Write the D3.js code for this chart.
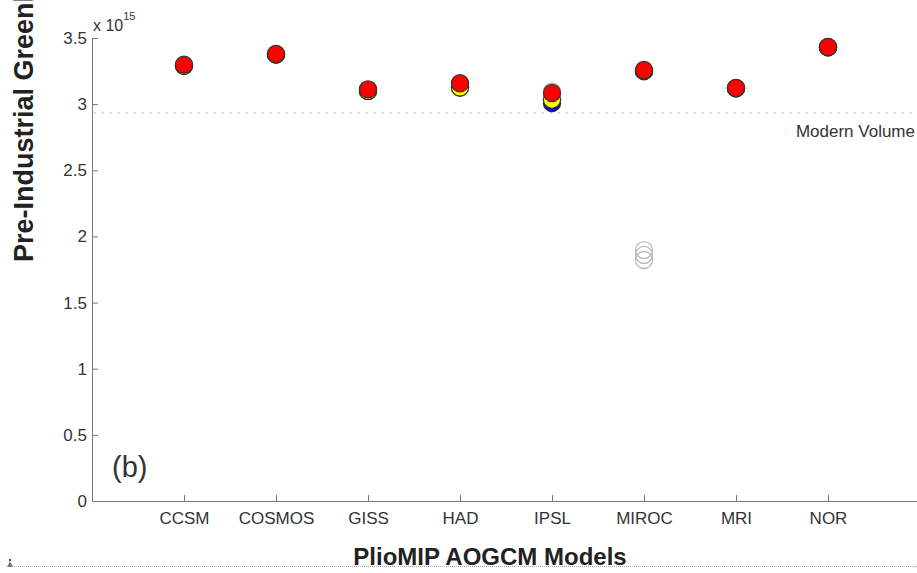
<!DOCTYPE html>
<html>
<head>
<meta charset="utf-8">
<script src="https://cdn.jsdelivr.net/npm/d3@7"></script>
<style>
  body { margin: 0; background: #fff; }
  svg { display: block; }
</style>
</head>
<body>
<svg id="chart" width="917" height="573" font-family="Liberation Sans, Arial, sans-serif"></svg>
<script>
// models along the x axis
const models = ["CCSM", "COSMOS", "GISS", "HAD", "IPSL", "MIROC", "MRI", "NOR"];
// volumes in units of 1e15 m^3 (null = not visible)
const grayVals   = [null, null, null, null, 3.095, 1.897, null, null];
const grayVals2  = [null, null, null, null, null, 1.86, null, null];
const grayVals3  = [null, null, null, null, null, 1.822, null, null];
const blueVals   = [3.29, 3.375, 3.10, 3.126, 3.009, 3.25, 3.12, 3.43];
const yellowVals = [3.29, 3.375, 3.10, 3.126, 3.034, 3.25, 3.12, 3.43];
const redVals    = [3.298, 3.379, 3.112, 3.158, 3.084, 3.258, 3.122, 3.432];
const yTicks = [0, 0.5, 1, 1.5, 2, 2.5, 3, 3.5];
const modernVolume = 2.933;

const svg = d3.select("#chart");
const x = d3.scaleLinear().domain([0, 9]).range([92, 920]);
const y = d3.scaleLinear().domain([0, 3.5]).range([501, 38]);

// y axis
const yAxis = d3.axisLeft(y).tickValues(yTicks).tickSizeInner(-6).tickSizeOuter(0)
  .tickPadding(5).tickFormat(d3.format("~g"));
const gy = svg.append("g").attr("transform", "translate(92,0)").call(yAxis);
gy.attr("font-family", null);
gy.select(".domain").attr("stroke", "#777");
gy.selectAll(".tick line").attr("stroke", "#777");
gy.selectAll(".tick text").attr("font-size", 17).attr("fill", "#333");

// x axis
const xAxis = d3.axisBottom(x).tickValues(d3.range(1, 9)).tickSizeInner(-6).tickSizeOuter(0)
  .tickPadding(11).tickFormat(i => models[i - 1]);
const gx = svg.append("g").attr("transform", "translate(0,501)").call(xAxis);
gx.attr("font-family", null);
gx.select(".domain").attr("stroke", "#777");
gx.selectAll(".tick line").attr("stroke", "#777");
gx.selectAll(".tick text").attr("font-size", 17).attr("fill", "#333");

// exponent
const ex = svg.append("text").attr("x", 93).attr("y", 31).attr("font-size", 16).attr("fill", "#333");
ex.append("tspan").text("x 10");
ex.append("tspan").attr("dy", -11).attr("font-size", 11).text("15");

// modern volume line
svg.append("line")
  .attr("x1", 94).attr("x2", 917)
  .attr("y1", y(modernVolume)).attr("y2", y(modernVolume))
  .attr("stroke", "#999").attr("stroke-dasharray", "1.5,6.5");
svg.append("text").attr("x", 915).attr("y", 137)
  .attr("text-anchor", "end").attr("font-size", 17).attr("fill", "#333")
  .text("Modern Volume");

// panel label
svg.append("text").attr("x", 112).attr("y", 477).attr("font-size", 29).attr("fill", "#333").text("(b)");

// axis titles
svg.append("text").attr("transform", "translate(33,262) rotate(-90)")
  .attr("font-size", 27).attr("font-weight", "bold").attr("fill", "#222")
  .text("Pre-Industrial Greenland Ice Sheet Volume (m\u00B3)");
svg.append("text").attr("x", 490).attr("y", 565).attr("text-anchor", "middle")
  .attr("font-size", 24).attr("font-weight", "bold").attr("fill", "#222")
  .text("PlioMIP AOGCM Models");

// markers
function hollow(vals) {
  svg.append("g").selectAll("circle")
    .data(vals.map((v, i) => ({v, i})).filter(d => d.v !== null))
    .join("circle")
    .attr("cx", d => x(d.i + 1)).attr("cy", d => y(d.v)).attr("r", 8.5)
    .attr("fill", "none").attr("stroke", "#bbb").attr("stroke-width", 1.3);
}
function filled(vals, color) {
  svg.append("g").selectAll("circle")
    .data(vals.map((v, i) => ({v, i})).filter(d => d.v !== null))
    .join("circle")
    .attr("cx", d => x(d.i + 1)).attr("cy", d => y(d.v)).attr("r", 8.6)
    .attr("fill", color).attr("stroke", "#333").attr("stroke-width", 1.2);
}
hollow(grayVals); hollow(grayVals2); hollow(grayVals3);
filled(blueVals, "#0000ff");
filled(yellowVals, "#ffff00");
filled(redVals, "#ff0000");

// page-edge artefact at the bottom
svg.append("line").attr("x1", 8).attr("x2", 917).attr("y1", 566.5).attr("y2", 566.5)
  .attr("stroke", "#aaa").attr("stroke-dasharray", "1,1");
svg.append("path").attr("d", "M7,567 L10,561 L13,567 Z").attr("fill", "#777");
svg.append("rect").attr("x", 9).attr("y", 559).attr("width", 2).attr("height", 2).attr("fill", "#e00");
</script>
</body>
</html>
